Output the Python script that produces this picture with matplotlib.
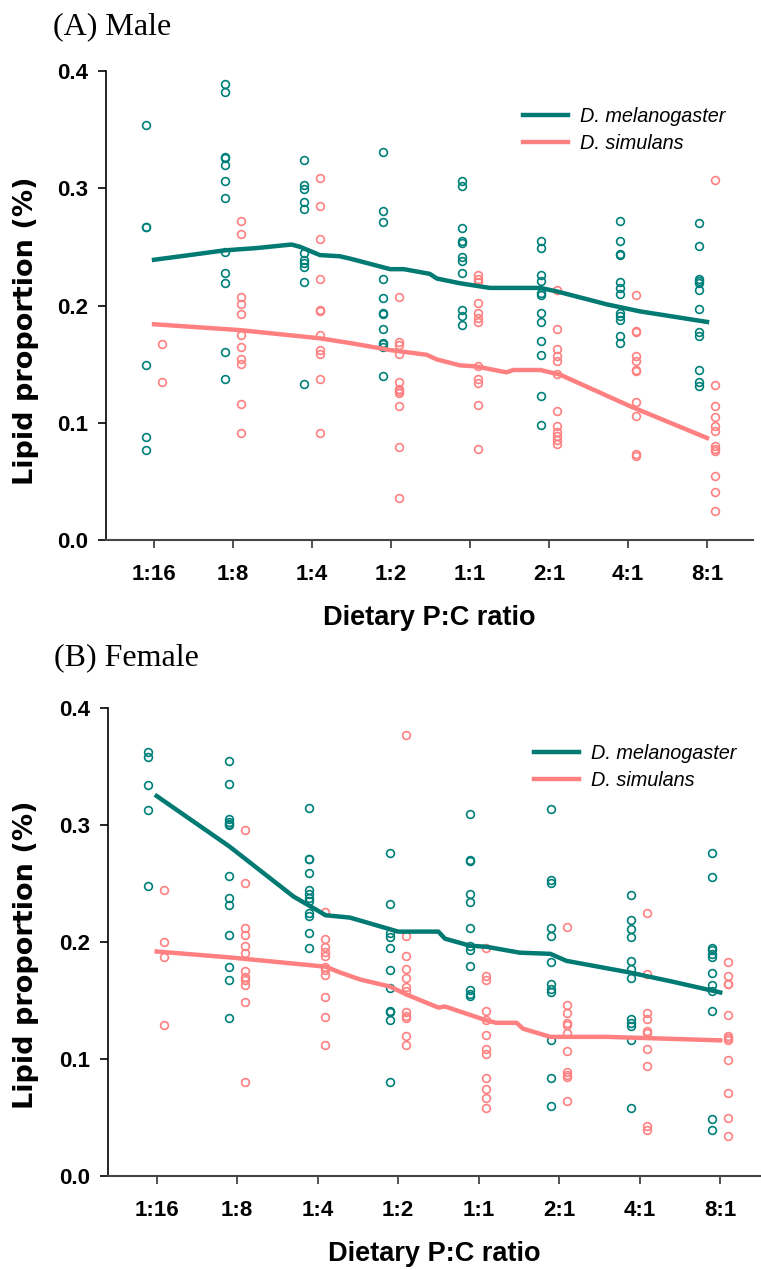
import matplotlib
matplotlib.use("Agg")
import matplotlib.pyplot as plt
import numpy as np

# rapports protéine:glucide du régime
ratios = ["1:16", "1:8", "1:4", "1:2", "1:1", "2:1", "4:1", "8:1"]

# proportion lipidique par individu - mâles
male_mel = [
    [0.354, 0.267, 0.267, 0.149, 0.088, 0.077],
    [0.389, 0.382, 0.327, 0.326, 0.320, 0.306, 0.292, 0.246, 0.228, 0.219, 0.160, 0.137],
    [0.324, 0.303, 0.299, 0.288, 0.282, 0.245, 0.239, 0.236, 0.233, 0.220, 0.133],
    [0.331, 0.281, 0.271, 0.223, 0.206, 0.194, 0.193, 0.180, 0.168, 0.167, 0.165, 0.140],
    [0.306, 0.302, 0.266, 0.255, 0.253, 0.241, 0.238, 0.228, 0.196, 0.191, 0.183],
    [0.255, 0.249, 0.226, 0.221, 0.211, 0.209, 0.194, 0.186, 0.170, 0.158, 0.123, 0.098],
    [0.272, 0.255, 0.244, 0.243, 0.220, 0.215, 0.210, 0.194, 0.191, 0.188, 0.174, 0.168],
    [0.270, 0.251, 0.223, 0.221, 0.219, 0.213, 0.197, 0.177, 0.174, 0.145, 0.135, 0.131],
]
male_sim = [
    [0.167, 0.135],
    [0.272, 0.261, 0.207, 0.201, 0.193, 0.175, 0.165, 0.154, 0.150, 0.116, 0.091],
    [0.309, 0.285, 0.257, 0.223, 0.196, 0.195, 0.175, 0.162, 0.159, 0.137, 0.091],
    [0.207, 0.169, 0.166, 0.159, 0.135, 0.129, 0.127, 0.125, 0.114, 0.079, 0.036],
    [0.226, 0.223, 0.220, 0.202, 0.194, 0.189, 0.186, 0.148, 0.137, 0.134, 0.115, 0.078],
    [0.213, 0.180, 0.163, 0.157, 0.153, 0.142, 0.110, 0.097, 0.092, 0.089, 0.085, 0.082],
    [0.209, 0.178, 0.177, 0.157, 0.153, 0.145, 0.144, 0.118, 0.106, 0.073, 0.072],
    [0.307, 0.132, 0.114, 0.105, 0.097, 0.093, 0.080, 0.078, 0.076, 0.055, 0.041, 0.025],
]

# proportion lipidique par individu - femelles
female_mel = [
    [0.363, 0.358, 0.334, 0.313, 0.248],
    [0.355, 0.335, 0.305, 0.303, 0.301, 0.300, 0.257, 0.238, 0.232, 0.206, 0.179, 0.168, 0.135],
    [0.315, 0.271, 0.271, 0.259, 0.245, 0.241, 0.238, 0.235, 0.225, 0.222, 0.208, 0.195],
    [0.276, 0.233, 0.208, 0.204, 0.195, 0.176, 0.161, 0.141, 0.140, 0.133, 0.080],
    [0.310, 0.270, 0.269, 0.241, 0.234, 0.212, 0.197, 0.193, 0.180, 0.159, 0.156, 0.154],
    [0.314, 0.253, 0.251, 0.212, 0.205, 0.183, 0.164, 0.160, 0.157, 0.116, 0.084, 0.060],
    [0.240, 0.219, 0.211, 0.204, 0.184, 0.177, 0.169, 0.134, 0.131, 0.128, 0.116, 0.058],
    [0.276, 0.256, 0.195, 0.193, 0.190, 0.187, 0.174, 0.163, 0.158, 0.141, 0.049, 0.039],
]
female_sim = [
    [0.245, 0.200, 0.187, 0.129],
    [0.296, 0.251, 0.212, 0.206, 0.197, 0.191, 0.175, 0.170, 0.168, 0.163, 0.149, 0.080],
    [0.226, 0.203, 0.196, 0.192, 0.188, 0.179, 0.176, 0.172, 0.153, 0.136, 0.112],
    [0.377, 0.205, 0.188, 0.177, 0.169, 0.162, 0.158, 0.140, 0.137, 0.135, 0.120, 0.112],
    [0.195, 0.171, 0.168, 0.141, 0.133, 0.121, 0.109, 0.104, 0.084, 0.074, 0.067, 0.058],
    [0.213, 0.146, 0.139, 0.131, 0.129, 0.122, 0.107, 0.089, 0.086, 0.085, 0.064],
    [0.225, 0.173, 0.139, 0.134, 0.124, 0.122, 0.109, 0.094, 0.043, 0.039],
    [0.183, 0.171, 0.164, 0.164, 0.138, 0.120, 0.118, 0.116, 0.099, 0.071, 0.050, 0.034],
]

# courbes lissées (position sur l'axe des régimes, valeur)
male_mel_fit_x = [0, 0.45, 0.89, 1.3, 1.74, 1.85, 2.1, 2.35, 2.48, 2.99, 3.16, 3.49, 3.58,
                  3.87, 4.25, 4.46, 4.89, 5.1, 5.73, 6.15, 7.0]
male_mel_fit_y = [0.239, 0.243, 0.247, 0.249, 0.252, 0.250, 0.243, 0.242, 0.240, 0.231, 0.231,
                  0.227, 0.223, 0.219, 0.215, 0.215, 0.215, 0.212, 0.201, 0.195, 0.186]
male_sim_fit_x = [0, 1.09, 2.1, 2.48, 2.99, 3.45, 3.58, 3.87, 4.08, 4.46, 4.55, 4.89, 5.14, 6.03, 7.0]
male_sim_fit_y = [0.184, 0.179, 0.172, 0.168, 0.162, 0.158, 0.154, 0.149, 0.148, 0.143, 0.145,
                  0.145, 0.141, 0.114, 0.087]
female_mel_fit_x = [0, 0.9, 1.7, 1.9, 2.1, 2.4, 2.9, 3.0, 3.5, 3.58, 3.89, 4.1, 4.51, 4.89,
                    5.09, 5.88, 6.42, 7.0]
female_mel_fit_y = [0.325, 0.282, 0.239, 0.231, 0.223, 0.221, 0.211, 0.209, 0.209, 0.203, 0.197,
                    0.196, 0.191, 0.190, 0.184, 0.174, 0.166, 0.157]
female_sim_fit_x = [0, 0.9, 2.1, 2.28, 2.53, 2.9, 3.11, 3.5, 3.58, 4.1, 4.22, 4.47, 4.55, 4.89,
                    5.59, 7.0]
female_sim_fit_y = [0.192, 0.187, 0.179, 0.174, 0.168, 0.162, 0.155, 0.144, 0.145, 0.133, 0.131,
                    0.131, 0.126, 0.119, 0.119, 0.116]

teal = "#00807a"
pink = "#ff8080"
sans = "Liberation Sans"
serif = "Liberation Serif"

fig = plt.figure(figsize=(7.61, 12.70), dpi=100)
W, H = 761, 1270


def panneau(rect, xlim, mel, sim, mel_fx, mel_fy, sim_fx, sim_fy, leg_xy):
    ax = fig.add_axes(rect)
    for i in range(len(ratios)):
        ax.plot(np.full(len(mel[i]), i - 0.105), mel[i], 'o', ms=5.6, mfc='none',
                mec=teal, mew=1.2, zorder=3)
        ax.plot(np.full(len(sim[i]), i + 0.095), sim[i], 'o', ms=5.6, mfc='none',
                mec=pink, mew=1.2, zorder=3)
    ax.plot(mel_fx, mel_fy, color="#007a72", lw=3.2, label="D. melanogaster", zorder=4)
    ax.plot(sim_fx, sim_fy, color=pink, lw=3.2, label="D. simulans", zorder=4)
    ax.set_xlim(*xlim)
    ax.set_ylim(0, 0.4)
    ax.set_xticks(range(len(ratios)))
    ax.set_xticklabels(ratios)
    ax.set_yticks([0, 0.1, 0.2, 0.3, 0.4])
    ax.set_yticklabels(["0.0", "0.1", "0.2", "0.3", "0.4"])
    for s in ["top", "right"]:
        ax.spines[s].set_visible(False)
    ax.spines["left"].set_linewidth(1.2)
    ax.spines["bottom"].set_linewidth(1.5)
    ax.spines["bottom"].set_color("#444444")
    ax.tick_params(axis='x', length=6, width=1.3, color="#444444", pad=11)
    ax.tick_params(axis='y', length=6, width=1.2, pad=7)
    for lab in ax.get_xticklabels() + ax.get_yticklabels():
        lab.set_fontfamily(sans)
        lab.set_fontweight('bold')
        lab.set_fontsize(16)
    ax.set_xlabel("Dietary P:C ratio", fontfamily=sans, fontweight='bold', fontsize=19.5,
                  labelpad=15)
    ax.legend(loc='upper left', bbox_to_anchor=(leg_xy[0] / W, 1 - leg_xy[1] / H),
              bbox_transform=fig.transFigure, frameon=False, borderpad=0, borderaxespad=0,
              handlelength=2.25, handletextpad=0.6, labelspacing=0.42,
              prop={'family': sans, 'style': 'italic', 'size': 14.3})
    return ax


ax1 = panneau([106 / W, 1 - 540 / H, (753 - 106) / W, 469 / H], (-0.608, 7.582),
              male_mel, male_sim, male_mel_fit_x, male_mel_fit_y,
              male_sim_fit_x, male_sim_fit_y, (523, 107))
ax2 = panneau([108.3 / W, 1 - 1176 / H, (760 - 108.3) / W, 467.7 / H], (-0.601, 7.494),
              female_mel, female_sim, female_mel_fit_x, female_mel_fit_y,
              female_sim_fit_x, female_sim_fit_y, (534, 744))

# titres des axes y, un par panneau
for yc in (331, 955):
    fig.text(26 / W, 1 - yc / H, "Lipid proportion (%)", rotation=90, ha='center', va='center',
             fontfamily="DejaVu Sans", fontweight='bold', fontsize=19.5)

fig.text(53 / W, 1 - 34 / H, "(A) Male", fontfamily=serif, fontsize=23, va='baseline')
fig.text(54 / W, 1 - 665 / H, "(B) Female", fontfamily=serif, fontsize=23, va='baseline')

fig.savefig("out.png", dpi=100)
